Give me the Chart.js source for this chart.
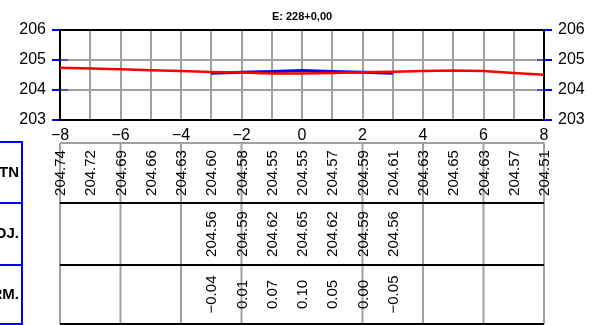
<!DOCTYPE html>
<html>
<head>
<meta charset="utf-8">
<script src="https://cdn.jsdelivr.net/npm/chart.js@4.4.1/dist/chart.umd.min.js"></script>
<style>
  body { margin: 0; background: #fff; }
  canvas { display: block; }
</style>
</head>
<body>
<canvas id="section-chart" width="604" height="325"></canvas>
<script>
// profile data (offsets in m, elevations in m)
const titleText = "E: 228+0,00";
const offsets = [-8, -7, -6, -5, -4, -3, -2, -1, 0, 1, 2, 3, 4, 5, 6, 7, 8];
const tnValues = [204.74, 204.72, 204.69, 204.66, 204.63, 204.60, 204.58, 204.55, 204.55,
                  204.57, 204.59, 204.61, 204.63, 204.65, 204.63, 204.57, 204.51];
const projOffsets = [-3, -2, -1, 0, 1, 2, 3];
const projValues = [204.56, 204.59, 204.62, 204.65, 204.62, 204.59, 204.56];
const termValues = [-0.04, 0.01, 0.07, 0.10, 0.05, 0.00, -0.05];
const yTicks = [203, 204, 205, 206];
const xTickLabels = [-8, -6, -4, -2, 0, 2, 4, 6, 8];
const tableLineOffsets = [-8, -6, -4, -2, 2, 4, 6, 8];
const rowLabels = ["TN", "PROJ.", "TERM."];

const FONT = '"Liberation Sans", Arial, sans-serif';
const rowTops = [143, 203, 265];
const tableBottom = 324;

function fmt(v) {
  return v.toFixed(2).replace('-', '\u2212');
}

function line(ctx, x1, y1, x2, y2) {
  ctx.beginPath();
  ctx.moveTo(x1, y1);
  ctx.lineTo(x2, y2);
  ctx.stroke();
}

const tablePlugin = {
  id: 'sectionTable',
  afterDraw(chart) {
    const ctx = chart.ctx;
    const xs = chart.scales.x;
    const ys = chart.scales.y;
    const area = chart.chartArea;
    ctx.save();

    // title
    ctx.fillStyle = '#000';
    ctx.font = 'bold 11px ' + FONT;
    ctx.textAlign = 'center';
    ctx.textBaseline = 'middle';
    ctx.fillText(titleText, (area.left + area.right) / 2, 17);

    // short inner ticks on the elevation axes
    ctx.strokeStyle = 'rgba(0,0,255,0.5)';
    ctx.lineWidth = 2;
    [204, 205].forEach(v => {
      const py = ys.getPixelForValue(v);
      line(ctx, area.left, py, area.left + 8, py);
      line(ctx, area.right - 7, py, area.right, py);
    });

    // table grid
    ctx.strokeStyle = '#a0a0a0';
    ctx.lineWidth = 2;
    tableLineOffsets.forEach(v => {
      const px = xs.getPixelForValue(v);
      line(ctx, px, rowTops[0], px, tableBottom);
    });
    line(ctx, area.left, rowTops[0], area.right, rowTops[0]);
    ctx.strokeStyle = '#000';
    [rowTops[1], rowTops[2], tableBottom].forEach(y => line(ctx, area.left, y, area.right, y));

    // row label box
    ctx.strokeStyle = '#0000ff';
    ctx.lineWidth = 2;
    ctx.strokeRect(-2, rowTops[0] - 1, 24, tableBottom - rowTops[0] + 1);
    line(ctx, 0, rowTops[1], 22, rowTops[1]);
    line(ctx, 0, rowTops[2], 22, rowTops[2]);
    ctx.fillStyle = '#000';
    ctx.font = 'bold 15px ' + FONT;
    ctx.textAlign = 'right';
    const bottoms = [rowTops[1], rowTops[2], tableBottom];
    rowLabels.forEach((lab, i) => {
      ctx.fillText(lab, 19, (rowTops[i] + bottoms[i]) / 2);
    });

    // rotated values
    ctx.font = '15px ' + FONT;
    ctx.textAlign = 'center';
    ctx.textBaseline = 'middle';
    const drawCol = (offs, vals, row, f) => {
      const cy = (rowTops[row] + bottoms[row]) / 2;
      offs.forEach((o, i) => {
        ctx.save();
        ctx.translate(xs.getPixelForValue(o), cy);
        ctx.rotate(-Math.PI / 2);
        ctx.fillText(f(vals[i]), 0, 1);
        ctx.restore();
      });
    };
    drawCol(offsets, tnValues, 0, fmt);
    drawCol(projOffsets, projValues, 1, fmt);
    drawCol(projOffsets, termValues, 2, fmt);

    ctx.restore();
  }
};

new Chart(document.getElementById("section-chart"), {
  type: 'line',
  data: {
    datasets: [
      {
        label: "TN",
        data: offsets.map((o, i) => ({ x: o, y: tnValues[i] })),
        borderColor: "#ff0000",
        borderWidth: 2.5,
        pointRadius: 0,
        tension: 0,
        order: 1
      },
      {
        label: "PROJ.",
        data: projOffsets.map((o, i) => ({ x: o, y: projValues[i] })),
        borderColor: "#0000ff",
        borderWidth: 3,
        pointRadius: 0,
        tension: 0,
        order: 2
      }
    ]
  },
  options: {
    responsive: false,
    animation: false,
    layout: { padding: { top: 30, left: 0, right: 0, bottom: 0 } },
    plugins: {
      legend: { display: false },
      tooltip: { enabled: false }
    },
    scales: {
      x: {
        type: 'linear',
        min: -8,
        max: 8,
        afterFit: s => { s.height = 205; },
        afterBuildTicks: s => {
          s.ticks = offsets.map(v => ({ value: v }));
        },
        ticks: {
          autoSkip: false,
          maxRotation: 0,
          padding: 6,
          color: '#000',
          font: { family: FONT, size: 16 },
          callback: v => xTickLabels.includes(v) ? String(v).replace('-', '\u2212') : ''
        },
        grid: { color: '#a0a0a0', lineWidth: 2, drawTicks: false },
        border: { color: '#000', width: 2 }
      },
      y: {
        position: 'left',
        min: 203,
        max: 206,
        afterFit: s => { s.width = 60; },
        afterBuildTicks: s => {
          s.ticks = yTicks.map(v => ({ value: v }));
        },
        ticks: {
          padding: 6,
          color: '#000',
          font: { family: FONT, size: 16 }
        },
        grid: {
          color: c => c.tick && c.tick.value === 206 ? '#000' : '#a0a0a0',
          lineWidth: 2,
          tickColor: '#0000ff',
          tickLength: 8
        },
        border: { color: '#000', width: 2 }
      },
      y2: {
        position: 'right',
        min: 203,
        max: 206,
        afterFit: s => { s.width = 60; },
        afterBuildTicks: s => {
          s.ticks = yTicks.map(v => ({ value: v }));
        },
        ticks: {
          padding: 6,
          color: '#000',
          font: { family: FONT, size: 16 }
        },
        grid: {
          drawOnChartArea: false,
          lineWidth: 2,
          tickColor: '#0000ff',
          tickLength: 8
        },
        border: { color: '#000', width: 2 }
      }
    }
  },
  plugins: [tablePlugin]
});
</script>
</body>
</html>
